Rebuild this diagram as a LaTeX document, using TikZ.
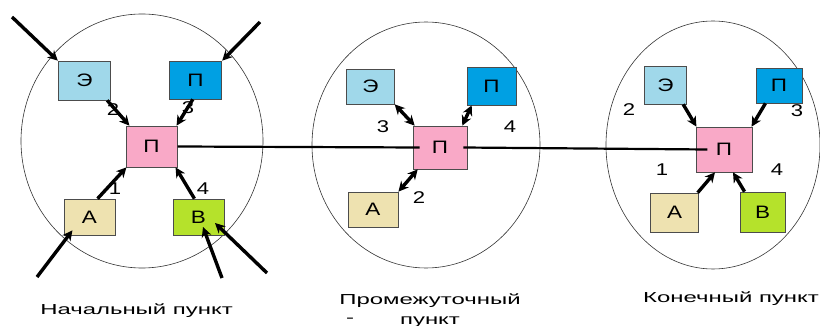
\documentclass[tikz,border=0pt]{standalone}
\usepackage{fontspec}
\setmainfont{Liberation Sans}
\usetikzlibrary{arrows.meta}
\definecolor{lblue}{HTML}{A0D8EA}
\definecolor{dblue}{HTML}{00A0E3}
\definecolor{pinkc}{HTML}{F9A9C7}
\definecolor{beige}{HTML}{EEE2B0}
\definecolor{greenc}{HTML}{B5E22B}
\begin{document}
\begin{tikzpicture}[x=1pt,y=-1pt,>={Stealth[length=10pt,width=10pt]},line cap=butt,line join=miter]
            \tikzset{box/.style={draw=black!70,line width=.7pt,inner sep=0pt,
                    font=\fontsize{18}{18}\selectfont,xscale=1.25},
                num/.style={font=\fontsize{17}{17}\selectfont,xscale=1.3,inner sep=0pt},
                capt/.style={font=\fontsize{14.5}{14.5}\selectfont,xscale=1.65,anchor=base,inner sep=0pt},
                arr/.style={->,line width=3.4pt},
                darr/.style={<->,line width=3.4pt}
            }
            \useasboundingbox (0,0) rectangle (820,326);
            % circles
            \draw[black!80,line width=.6pt] (142,141) ellipse [x radius=121,y radius=127];
            \draw[black!80,line width=.6pt] (426,145) ellipse [x radius=114,y radius=123];
            \draw[black!80,line width=.6pt] (713,145) ellipse [x radius=107,y radius=124];
            % начальный пункт
            \node[box,fill=lblue,minimum width=42,minimum height=39] (lE) at (84.5,80.5) {Э};
            \node[box,fill=dblue,minimum width=42,minimum height=38] (lP) at (195.5,80) {П};
            \node[box,fill=pinkc,minimum width=41,minimum height=41] (lC) at (151.5,146.5) {П};
            \node[box,fill=beige,minimum width=41,minimum height=36] (lA) at (89.5,217) {А};
            \node[box,fill=greenc,minimum width=41,minimum height=36] (lB) at (198.5,217) {В};
            \coordinate (lEin) at (12,17);
            \coordinate (lPin) at (260,22);
            \coordinate (lAin) at (37,277);
            \coordinate (lBin) at (222,278);
            \coordinate (lBin2) at (267,273);
            \draw[arr] (lEin) -- (lE.north west);
            \draw[arr] (lPin) -- (lP.north east);
            \draw[arr] (lAin) -- ([shift={(9,-5)}]lA.south west);
            \draw[arr] (lBin) -- ([shift={(4.5,10)}]lB.center);
            \draw[arr] (lBin2) -- ([shift={(16.5,6)}]lB.center);
            \draw[arr] ([xshift=-4]lE.south east) -- ([xshift=4]lC.north west);
            \draw[arr] ([xshift=24]lP.south west) -- ([xshift=-1]lC.north east);
            \draw[arr] ([xshift=-18]lA.north east) -- ([xshift=1]lC.south west);
            \draw[arr] ([xshift=22]lB.north west) -- ([xshift=-2]lC.south east);
            \node[num] (l2) at (113,110) {2};
            \node[num] (l3) at (188,108) {3};
            \node[num] (l1) at (115,189) {1};
            \node[num] (l4) at (203,189) {4};
            % промежуточный пункт
            \node[box,fill=lblue,minimum width=38,minimum height=35] (mE) at (370.5,86.5) {Э};
            \node[box,fill=dblue,minimum width=39,minimum height=38] (mP) at (491.5,86) {П};
            \node[box,fill=pinkc,minimum width=43,minimum height=43] (mC) at (440,147.5) {П};
            \node[box,fill=beige,minimum width=40,minimum height=35] (mA) at (373,209.5) {А};
            \draw[darr] (mE.south east) -- ([xshift=2]mC.north west);
            \draw[darr] ([xshift=5]mP.south west) -- ([xshift=-5]mC.north east);
            \draw[darr] (mA.north east) -- ([xshift=5]mC.south west);
            \node[num] (m3) at (383,127) {3};
            \node[num] (m4) at (510,127) {4};
            \node[num] (m2) at (419,198) {2};
            % конечный пункт
            \node[box,fill=lblue,minimum width=34,minimum height=38] (rE) at (665.5,85) {Э};
            \node[box,fill=dblue,minimum width=37,minimum height=35] (rP) at (779,85.5) {П};
            \node[box,fill=pinkc,minimum width=45,minimum height=45] (rC) at (724,149.5) {П};
            \node[box,fill=beige,minimum width=38,minimum height=39] (rA) at (674.5,212.5) {А};
            \node[box,fill=greenc,minimum width=36,minimum height=40] (rB) at (762.5,212) {В};
            \draw[arr] ([xshift=-4]rE.south east) -- ([xshift=1]rC.north west);
            \draw[arr] ([xshift=10]rP.south west) -- ([xshift=-1]rC.north east);
            \draw[arr] ([xshift=-1]rA.north east) -- ([xshift=-9]rC.south);
            \draw[arr] ([xshift=5]rB.north west) -- ([xshift=9]rC.south);
            \node[num] (r2) at (629,110) {2};
            \node[num] (r3) at (797,111) {3};
            \node[num] (r1) at (662,170) {1};
            \node[num] (r4) at (777,170) {4};
            % линии
            \draw[line width=2.2pt] (lC.east) -- ([xshift=7]mC.west);
            \draw[line width=2.2pt] ([xshift=-4]mC.east) -- ([xshift=12]rC.west);
            % подписи
            \node[capt] (tl) at (136.5,314) {Начальный пункт};
            \node[capt] (tm) at (430,304) {Промежуточный};
            \node[capt] (tm2) at (430,324) {пункт};
            \node[capt] (dash) at (350,322) {-};
            \node[capt] (tr) at (731,302) {Конечный пункт};
    \end{tikzpicture}
\end{document}
